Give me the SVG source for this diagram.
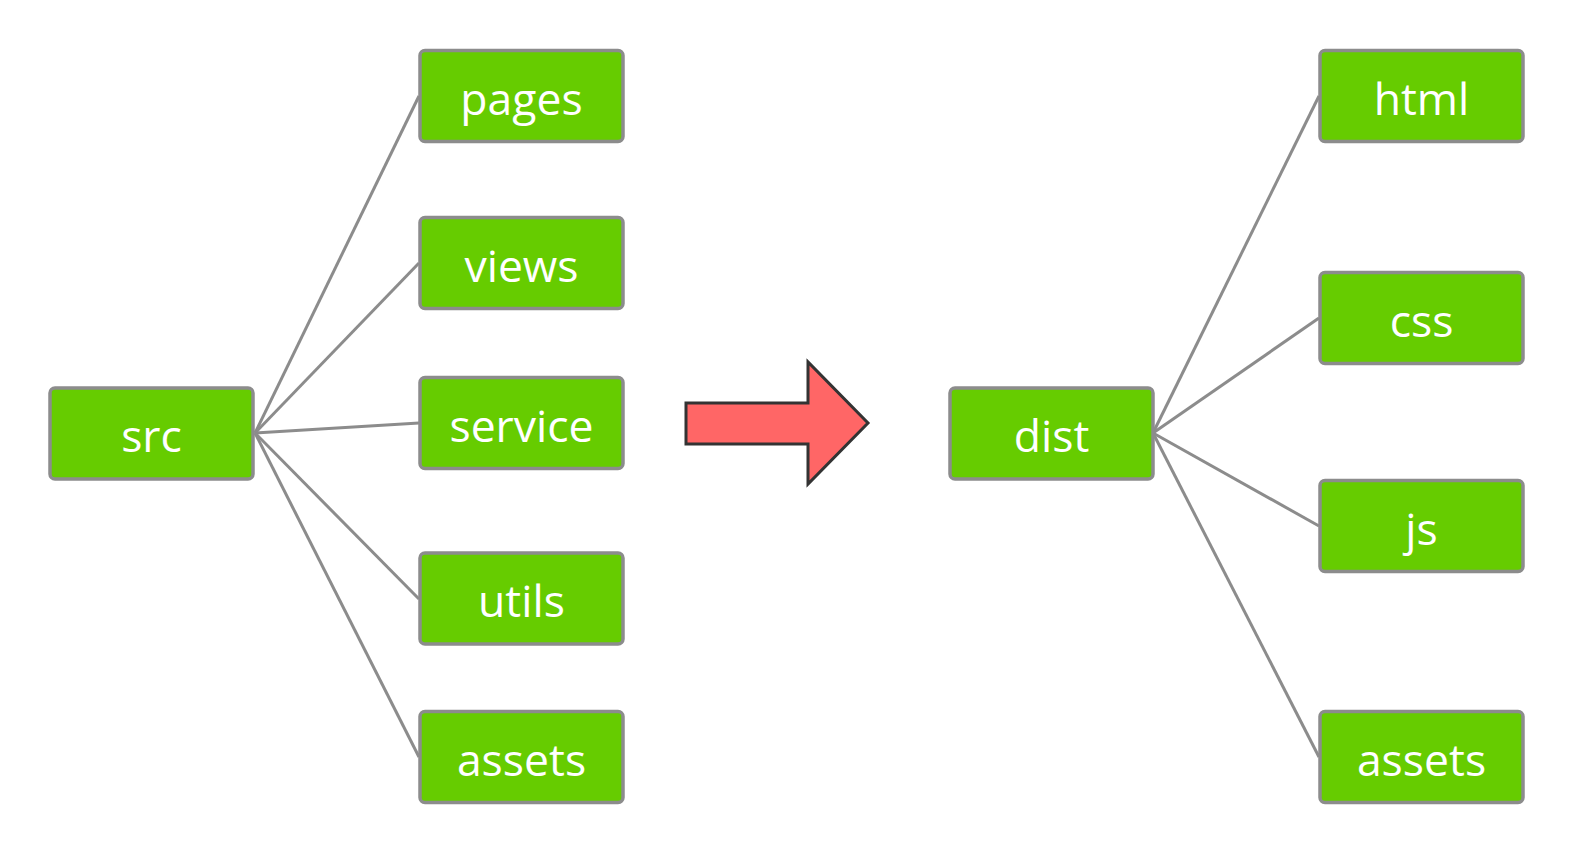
<svg xmlns="http://www.w3.org/2000/svg" width="1574" height="854" viewBox="0 0 1574 854">
<style>
.box{fill:#66cc00;stroke:#8c8c8c;stroke-width:3.5}
.lbl{fill:#ffffff;font-family:"Open Sans","Noto Sans",sans-serif;font-size:44.5px;text-anchor:middle}
.edge{stroke:#8c8c8c;stroke-width:3;fill:none}
</style>
<rect width="1574" height="854" fill="#ffffff"/>
<g id="connectors">
<line class="edge" x1="255" y1="433" x2="419" y2="96"/>
<line class="edge" x1="255" y1="433" x2="419" y2="263"/>
<line class="edge" x1="255" y1="433" x2="419" y2="423"/>
<line class="edge" x1="255" y1="433" x2="419" y2="599"/>
<line class="edge" x1="255" y1="433" x2="419" y2="757"/>
<line class="edge" x1="1153" y1="433" x2="1319" y2="96"/>
<line class="edge" x1="1153" y1="433" x2="1319" y2="318"/>
<line class="edge" x1="1153" y1="433" x2="1319" y2="526"/>
<line class="edge" x1="1153" y1="433" x2="1319" y2="757"/>
</g>
<g id="arrow">
<polygon points="686,403 808,403 808,362 868,423 808,484 808,444 686,444" fill="#ff6666" stroke="#333333" stroke-width="3"/>
</g>
<g id="src"><rect class="box" x="50" y="388" width="203" height="91" rx="5"/><text class="lbl" x="151.5" y="452">src</text></g>
<g id="pages"><rect class="box" x="420" y="50.5" width="203" height="91" rx="5"/><text class="lbl" x="521.5" y="114.5">pages</text></g>
<g id="views"><rect class="box" x="420" y="217.5" width="203" height="91" rx="5"/><text class="lbl" x="521.5" y="281.5">views</text></g>
<g id="service"><rect class="box" x="420" y="377.5" width="203" height="91" rx="5"/><text class="lbl" x="521.5" y="441.5">service</text></g>
<g id="utils"><rect class="box" x="420" y="553" width="203" height="91" rx="5"/><text class="lbl" x="521.5" y="617">utils</text></g>
<g id="assets1"><rect class="box" x="420" y="711.5" width="203" height="91" rx="5"/><text class="lbl" x="521.5" y="775.5">assets</text></g>
<g id="dist"><rect class="box" x="950" y="388" width="203" height="91" rx="5"/><text class="lbl" x="1051.5" y="452">dist</text></g>
<g id="html"><rect class="box" x="1320" y="50.5" width="203" height="91" rx="5"/><text class="lbl" x="1421.5" y="114.5">html</text></g>
<g id="css"><rect class="box" x="1320" y="272.5" width="203" height="91" rx="5"/><text class="lbl" x="1421.5" y="336.5">css</text></g>
<g id="js"><rect class="box" x="1320" y="480.5" width="203" height="91" rx="5"/><text class="lbl" x="1421.5" y="544.5">js</text></g>
<g id="assets2"><rect class="box" x="1320" y="711.5" width="203" height="91" rx="5"/><text class="lbl" x="1421.5" y="775.5">assets</text></g>
</svg>
